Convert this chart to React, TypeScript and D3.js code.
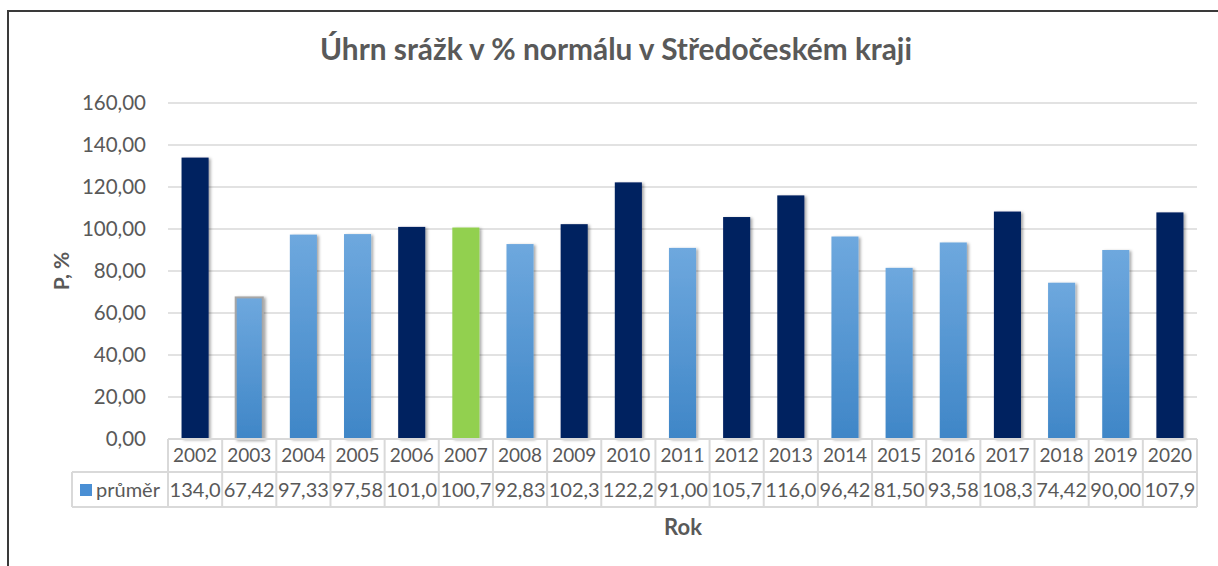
import React from "react";
import * as d3 from "d3";

const years = ["2002","2003","2004","2005","2006","2007","2008","2009","2010","2011","2012","2013","2014","2015","2016","2017","2018","2019","2020"];
const values = [134.0, 67.42, 97.33, 97.58, 101.0, 100.7, 92.83, 102.3, 122.2, 91.0, 105.7, 116.0, 96.42, 81.5, 93.58, 108.3, 74.42, 90.0, 107.9];
// colour class per year: d = dark (above normal), l = light (below), g = green (normal), o = light with outline
const kinds = ["d","o","l","l","d","g","l","d","d","l","d","d","l","l","l","d","l","l","d"];
const yTicks = [0, 20, 40, 60, 80, 100, 120, 140, 160];
const seriesName = "průměr";
const title = "Úhrn srážk v % normálu v Středočeském kraji";
const yTitle = "P, %";
const xTitle = "Rok";

const W = 1218, H = 566;
const plotL = 168, plotR = 1197, plotT = 103, plotB = 439;
const row1B = 472, row2B = 507, legendL = 72;
const FONT = "Lato, 'Open Sans', sans-serif";
const TXT = "#595959";
const GRID = "#d9d9d9";

export default function App() {
  const x = d3.scaleBand<string>().domain(years).range([plotL, plotR]).paddingInner(0.5).paddingOuter(0.25);
  const band = d3.scaleBand<string>().domain(years).range([plotL, plotR]);
  const y = d3.scaleLinear().domain([0, 160]).range([plotB, plotT]);
  const fmtTick = (v: number) => v.toFixed(2).replace(".", ",");
  const fmtCell = (v: number) => v.toFixed(2).replace(".", ",").slice(0, 5);
  const fillFor = (k: string) => k === "d" ? "#002060" : k === "g" ? "#92d050" : "url(#lightGrad)";

  return (
    <svg width={W} height={H} style={{ position: "absolute", left: 0, top: 0, background: "#fff" }} fontFamily={FONT}>
      <defs>
        <linearGradient id="lightGrad" x1="0" y1="0" x2="0" y2="1">
          <stop offset="0" stopColor="#6ea8de" />
          <stop offset="1" stopColor="#3f86c7" />
        </linearGradient>
        <filter id="shadow" x="-30%" y="-10%" width="160%" height="120%">
          <feDropShadow dx="2" dy="1" stdDeviation="1.6" floodColor="#000" floodOpacity="0.35" />
        </filter>
      </defs>
      <path d={`M8,${H} V11 H${W}`} fill="none" stroke="#3a3a3a" strokeWidth={2} />
      <text x={616} y={60} textAnchor="middle" fontSize={29.8} fontWeight="bold" fill={TXT}>{title}</text>
      {yTicks.map(t => (
        <g key={t}>
          {t > 0 && <line x1={plotL} x2={plotR} y1={y(t)} y2={y(t)} stroke={GRID} strokeWidth={1.5} />}
          <text x={146} y={y(t)} dy="0.35em" textAnchor="end" fontSize={20.5} fill={TXT}>{fmtTick(t)}</text>
        </g>
      ))}
      <text transform={`translate(62,${(plotT + plotB) / 2}) rotate(-90)`} dy="0.35em" textAnchor="middle" fontSize={21} fontWeight="bold" fill={TXT}>{yTitle}</text>
      {years.map((yr, i) => (
        <rect key={yr} x={x(yr)} y={y(values[i])} width={x.bandwidth()} height={plotB - y(values[i])}
          fill={fillFor(kinds[i])} stroke={kinds[i] === "o" ? "#a6a6a6" : "none"} strokeWidth={kinds[i] === "o" ? 2 : 0}
          filter="url(#shadow)" />
      ))}
      {/* data table */}
      <g stroke={GRID} strokeWidth={2} fill="none">
        <line x1={plotL} x2={plotR} y1={plotB} y2={plotB} />
        <line x1={legendL} x2={plotR} y1={row1B} y2={row1B} />
        <line x1={legendL} x2={plotR} y1={row2B} y2={row2B} />
        <line x1={legendL} x2={legendL} y1={row1B} y2={row2B} />
        {years.map(yr => (
          <line key={yr} x1={band(yr)} x2={band(yr)} y1={plotB} y2={row2B} />
        ))}
        <line x1={plotR} x2={plotR} y1={plotB} y2={row2B} />
      </g>
      {years.map((yr, i) => (
        <g key={yr} fill={TXT} textAnchor="middle">
          <text x={band(yr)! + band.bandwidth() / 2} y={(plotB + row1B) / 2} dy="0.36em" fontSize={19}>{yr}</text>
          <text x={band(yr)! + band.bandwidth() / 2} y={(row1B + row2B) / 2} dy="0.36em" fontSize={20}>{fmtCell(values[i])}</text>
        </g>
      ))}
      <rect x={80} y={484} width={12} height={12} fill="#4a8fd4" />
      <text x={96} y={(row1B + row2B) / 2} dy="0.36em" fontSize={20} fill={TXT}>{seriesName}</text>
      <text x={683} y={535} textAnchor="middle" fontSize={22} fontWeight="bold" fill={TXT}>{xTitle}</text>
    </svg>
  );
}
